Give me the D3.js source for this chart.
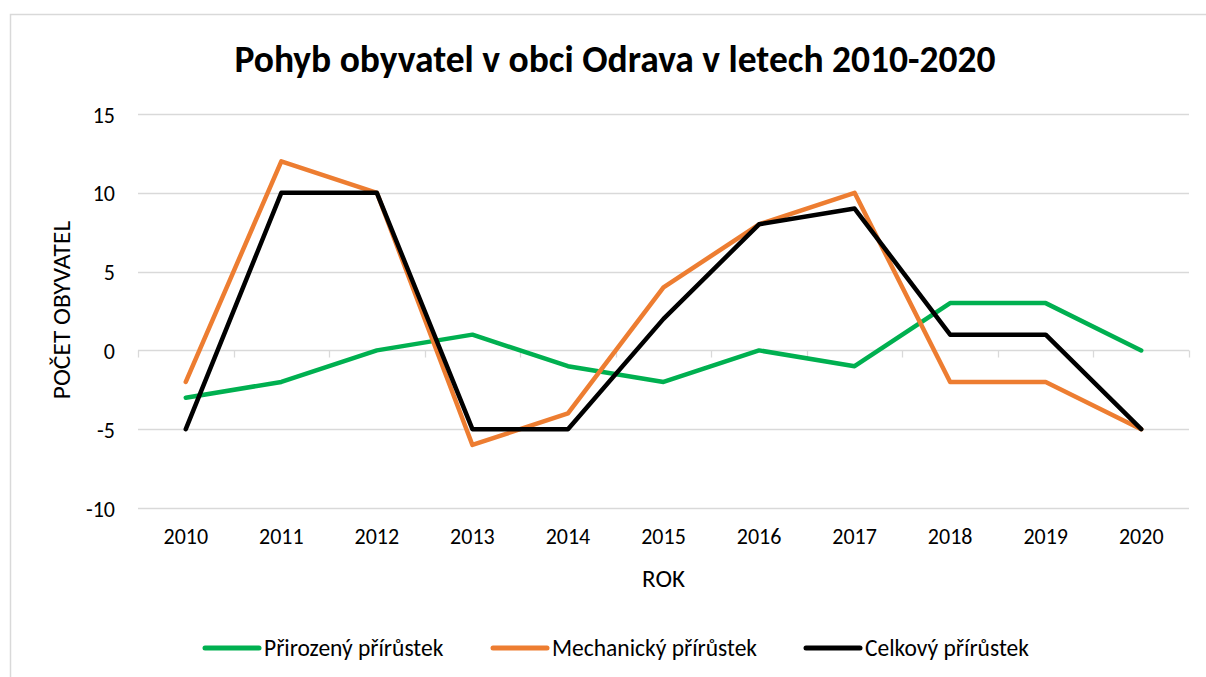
<!DOCTYPE html>
<html>
<head>
<meta charset="utf-8">
<script src="https://cdn.jsdelivr.net/npm/d3@7"></script>
<style>
  html, body { margin: 0; padding: 0; background: #fff; }
  svg { display: block; font-family: Carlito, Calibri, Lato, sans-serif; }
</style>
</head>
<body>
<svg id="chart" width="1206" height="677"></svg>
<script>
const title = "Pohyb obyvatel v obci Odrava v letech 2010-2020";
const years = ["2010","2011","2012","2013","2014","2015","2016","2017","2018","2019","2020"];
const prirozeny = [-3, -2, 0, 1, -1, -2, 0, -1, 3, 3, 0];
const mechanicky = [-2, 12, 10, -6, -4, 4, 8, 10, -2, -2, -5];
const celkovy = [-5, 10, 10, -5, -5, 2, 8, 9, 1, 1, -5];
const yTicks = [-10, -5, 0, 5, 10, 15];
const seriesNames = ["Přirozený přírůstek", "Mechanický přírůstek", "Celkový přírůstek"];
const seriesColors = ["#00B050", "#ED7D31", "#000000"];
const xTitle = "ROK";
const yTitle = "POČET OBYVATEL";

const series = [prirozeny, mechanicky, celkovy].map((v, i) => ({name: seriesNames[i], color: seriesColors[i], values: v}));

const svg = d3.select("#chart");
const W = 1206, H = 677;
const plot = {left: 138, right: 1189, top: 114, bottom: 508};
const FONT = "Carlito, Calibri, Lato, sans-serif";

// chart border
svg.append("rect").attr("x", 10.5).attr("y", 14.5).attr("width", W + 20).attr("height", H + 20)
  .attr("fill", "#fff").attr("stroke", "#d9d9d9").attr("stroke-width", 1.5);

const x = d3.scaleBand().domain(years).range([plot.left, plot.right]).padding(0);
const y = d3.scaleLinear().domain([-10, 15]).range([plot.bottom, plot.top]);

// gridlines
svg.append("g").selectAll("line").data(yTicks).join("line")
  .attr("x1", plot.left).attr("x2", plot.right)
  .attr("y1", d => Math.round(y(d)) + 0.5).attr("y2", d => Math.round(y(d)) + 0.5)
  .attr("stroke", "#d9d9d9").attr("stroke-width", 1.3);

// y axis labels
const yAxis = d3.axisLeft(y).tickValues(yTicks).tickSize(0).tickPadding(0).tickFormat(d => String(d));
const yg = svg.append("g").attr("transform", `translate(${plot.left - 23},1)`).call(yAxis);
yg.select(".domain").remove();
yg.selectAll("text").attr("font-size", 22).attr("fill", "#000").attr("font-family", FONT);

// category axis on zero line
const zeroY = Math.round(y(0)) + 0.5;
const xg = svg.append("g").attr("transform", `translate(0,${zeroY})`);
const boundaries = years.map(d => x(d)).concat([x(years[years.length - 1]) + x.bandwidth()]);
xg.selectAll("line.bt").data(boundaries).join("line").attr("class", "bt")
  .attr("x1", d => Math.round(d) + 0.5).attr("x2", d => Math.round(d) + 0.5)
  .attr("y1", 0).attr("y2", 7).attr("stroke", "#d9d9d9").attr("stroke-width", 1.3);

// x labels at bottom
const xl = d3.axisBottom(x).tickSize(0).tickPadding(0);
const xlg = svg.append("g").attr("transform", `translate(0,${plot.bottom + 20})`).call(xl);
xlg.select(".domain").remove();
xlg.selectAll("text").attr("font-size", 22).attr("fill", "#000").attr("font-family", FONT);

// lines
const line = d3.line().x((d, i) => x(years[i]) + x.bandwidth() / 2).y(d => y(d));
svg.append("g").selectAll("path").data(series).join("path")
  .attr("d", d => line(d.values)).attr("fill", "none")
  .attr("stroke", d => d.color).attr("stroke-width", 4.5)
  .attr("stroke-linejoin", "round").attr("stroke-linecap", "round");

// title
svg.append("text").attr("x", 615).attr("y", 72).attr("text-anchor", "middle")
  .attr("font-size", 37.5).attr("font-weight", "bold").text(title);

// axis titles
svg.append("text").attr("x", (plot.left + plot.right) / 2).attr("y", 587).attr("text-anchor", "middle")
  .attr("font-size", 25).text(xTitle);
svg.append("text").attr("transform", `translate(70,310) rotate(-90)`).attr("text-anchor", "middle")
  .attr("font-size", 25.5).text(yTitle);

// legend
const legendX = [205, 493, 806];
const lg = svg.append("g").selectAll("g").data(series).join("g")
  .attr("transform", (d, i) => `translate(${legendX[i]},648)`);
lg.append("line").attr("x1", 0).attr("x2", 54).attr("y1", 0).attr("y2", 0)
  .attr("stroke", d => d.color).attr("stroke-width", 5).attr("stroke-linecap", "round");
lg.append("text").attr("x", 59).attr("y", 8).attr("font-size", 23.5).text(d => d.name);
</script>
</body>
</html>
